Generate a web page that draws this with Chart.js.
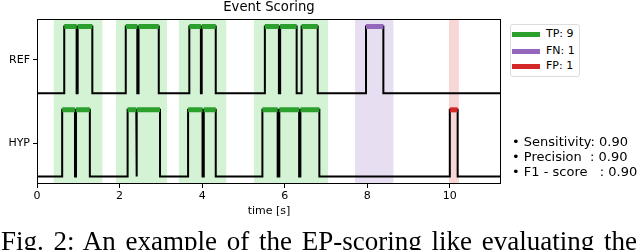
<!DOCTYPE html>
<html>
<head>
<meta charset="utf-8">
<script src="https://cdn.jsdelivr.net/npm/chart.js@4.4.1/dist/chart.umd.min.js"></script>
<style>
  body { margin: 0; background: #fff; }
  #wrap { position: relative; width: 640px; height: 250px; overflow: hidden; font-family: "DejaVu Sans", sans-serif; color: #000; }
  #myChart { position: absolute; left: 0; top: 0; }
  #title { position: absolute; left: 37px; width: 464px; top: -1px; text-align: center; font-size: 13.2px; line-height: normal; }
  #legend { position: absolute; left: 510px; top: 24px; width: 68px; height: 51px; border: 1px solid #dcdcdc; border-radius: 3px; background: #fff; font-size: 11px; }
  .row { position: absolute; left: 0; height: 14px; }
  .swatch { position: absolute; left: 1px; width: 28px; height: 5px; }
  .lab { position: absolute; left: 35px; white-space: nowrap; line-height: 14px; }
  #stats { position: absolute; left: 512px; top: 135px; font-size: 13px; line-height: 14.8px; white-space: pre; }
  #caption { position: absolute; left: 1px; top: 227px; font-family: "Liberation Serif", serif; font-size: 27px; line-height: 28px; word-spacing: 3px; white-space: pre; }
</style>
</head>
<body>
<div id="wrap">
  <canvas id="myChart" width="640" height="250"></canvas>
  <div id="title">Event Scoring</div>
  <div id="legend"></div>
  <div id="stats"></div>
  <div id="caption">Fig. 2: An example of the EP-scoring like evaluating the</div>
</div>
<script>
// axis
const xMax = 11.24;
const xTicks = [0, 2, 4, 6, 8, 10];
const trackLabels = ["HYP", "REF"];
const trackTicks = [0.5, 1.75];
const trackBase = [0, 1.25];

// events [start, end] in seconds
const refEvents = [[0.66, 0.96], [0.985, 1.34], [2.15, 2.43], [2.46, 2.95], [3.69, 3.97], [3.99, 4.33],
                   [5.52, 5.86], [5.89, 6.29], [6.41, 6.80], [7.97, 8.39]];
const refKinds = ["TP", "TP", "TP", "TP", "TP", "TP", "TP", "TP", "TP", "FN"];
const hypEvents = [[0.61, 0.92], [0.945, 1.28], [2.195, 2.405], [2.42, 2.98], [3.66, 4.01], [4.04, 4.33],
                   [5.46, 5.83], [5.87, 6.35], [6.38, 6.84], [10.0, 10.19]];
const hypKinds = ["TP", "TP", "TP", "TP", "TP", "TP", "TP", "TP", "TP", "FP"];

// shaded scoring windows
const tpSpans = [[0.40, 1.59], [1.91, 3.155], [3.43, 4.59], [5.25, 7.05]];
const fnSpans = [[7.70, 8.64]];
const fpSpans = [[9.98, 10.22]];

const legendLabels = ["TP: 9", "FN: 1", "FP: 1"];
const legendKinds = ["TP", "FN", "FP"];
const statLines = ["• Sensitivity: 0.90", "• Precision  : 0.90", "• F1 - score   : 0.90"];

const colors = { TP: "#2ca02c", FN: "#9467bd", FP: "#d62728" };
const shades = { TP: "#d4f2d4", FN: "#e7dff1", FP: "#f8d6d6" };

function stepLine(events, base) {
  const pts = [{ x: 0, y: base }];
  events.forEach(([s, e]) => {
    pts.push({ x: s, y: base }, { x: s, y: base + 1 }, { x: e, y: base + 1 }, { x: e, y: base });
  });
  pts.push({ x: xMax, y: base });
  return pts;
}

function barLine(events, kinds, kind, base) {
  const pts = [];
  events.forEach(([s, e], i) => {
    if (kinds[i] !== kind) return;
    pts.push({ x: s, y: base + 1 }, { x: e, y: base + 1 }, { x: e, y: null });
  });
  return pts;
}

const datasets = [];
[["TP", tpSpans], ["FN", fnSpans], ["FP", fpSpans]].forEach(([kind, spans]) => {
  spans.forEach(([a, b]) => {
    datasets.push({
      data: [{ x: a, y: 2.3625 }, { x: b, y: 2.3625 }],
      borderWidth: 0, pointRadius: 0, fill: "start",
      backgroundColor: shades[kind], order: 3
    });
  });
});
datasets.push({ data: stepLine(refEvents, trackBase[1]), borderColor: "#000", borderWidth: 2, pointRadius: 0, order: 2 });
datasets.push({ data: stepLine(hypEvents, trackBase[0]), borderColor: "#000", borderWidth: 2, pointRadius: 0, order: 2 });
[["TP", refEvents, refKinds, 1], ["FN", refEvents, refKinds, 1], ["TP", hypEvents, hypKinds, 0], ["FP", hypEvents, hypKinds, 0]]
  .forEach(([kind, ev, kinds, t]) => {
    datasets.push({
      data: barLine(ev, kinds, kind, trackBase[t]),
      borderColor: colors[kind], borderWidth: 5, borderCapStyle: "butt",
      pointRadius: 0, spanGaps: false, order: 1
    });
  });

const frame = {
  id: "frame",
  afterDatasetsDraw(chart) {
    const { ctx, chartArea: a } = chart;
    ctx.save();
    ctx.strokeStyle = "#000";
    ctx.lineWidth = 1;
    ctx.strokeRect(a.left + 0.5, a.top + 0.5, a.width - 1, a.height - 1);
    ctx.restore();
  }
};

const tickFont = { family: "DejaVu Sans", size: 11 };

new Chart(document.getElementById("myChart"), {
  type: "line",
  data: { datasets: datasets },
  options: {
    responsive: false,
    animation: false,
    layout: { padding: { left: 0, right: 139, top: 19, bottom: 0 } },
    plugins: { legend: { display: false }, tooltip: { enabled: false } },
    elements: { line: { tension: 0 } },
    scales: {
      x: {
        type: "linear", min: 0, max: xMax,
        afterBuildTicks: (s) => { s.ticks = xTicks.map((v) => ({ value: v })); },
        afterFit: (s) => { s.height = 66; },
        grid: { display: true, drawOnChartArea: false, tickLength: 4, color: "#000" },
        border: { display: false },
        ticks: { font: tickFont, color: "#000", padding: 2, maxRotation: 0 },
        title: { display: true, text: "time [s]", font: tickFont, color: "#000", padding: { top: 0, bottom: 32 } }
      },
      y: {
        type: "linear", min: -0.1125, max: 2.3625,
        afterBuildTicks: (s) => { s.ticks = trackTicks.map((v) => ({ value: v })); },
        afterFit: (s) => { s.width = 37; },
        grid: { display: true, drawOnChartArea: false, tickLength: 4, color: "#000" },
        border: { display: false },
        ticks: {
          font: tickFont, color: "#000", padding: 3,
          callback: (v) => trackLabels[trackTicks.indexOf(v)]
        }
      }
    }
  },
  plugins: [frame]
});

// legend box
const legend = document.getElementById("legend");
const rowTops = [2, 19, 34];
legendLabels.forEach((txt, i) => {
  const row = document.createElement("div");
  row.className = "row";
  row.style.top = rowTops[i] + "px";
  row.innerHTML = '<div class="swatch" style="top:4.5px;background:' + colors[legendKinds[i]] + '"></div><div class="lab">' + txt + "</div>";
  legend.appendChild(row);
});

document.getElementById("stats").textContent = statLines.join("\n");
</script>
</body>
</html>
